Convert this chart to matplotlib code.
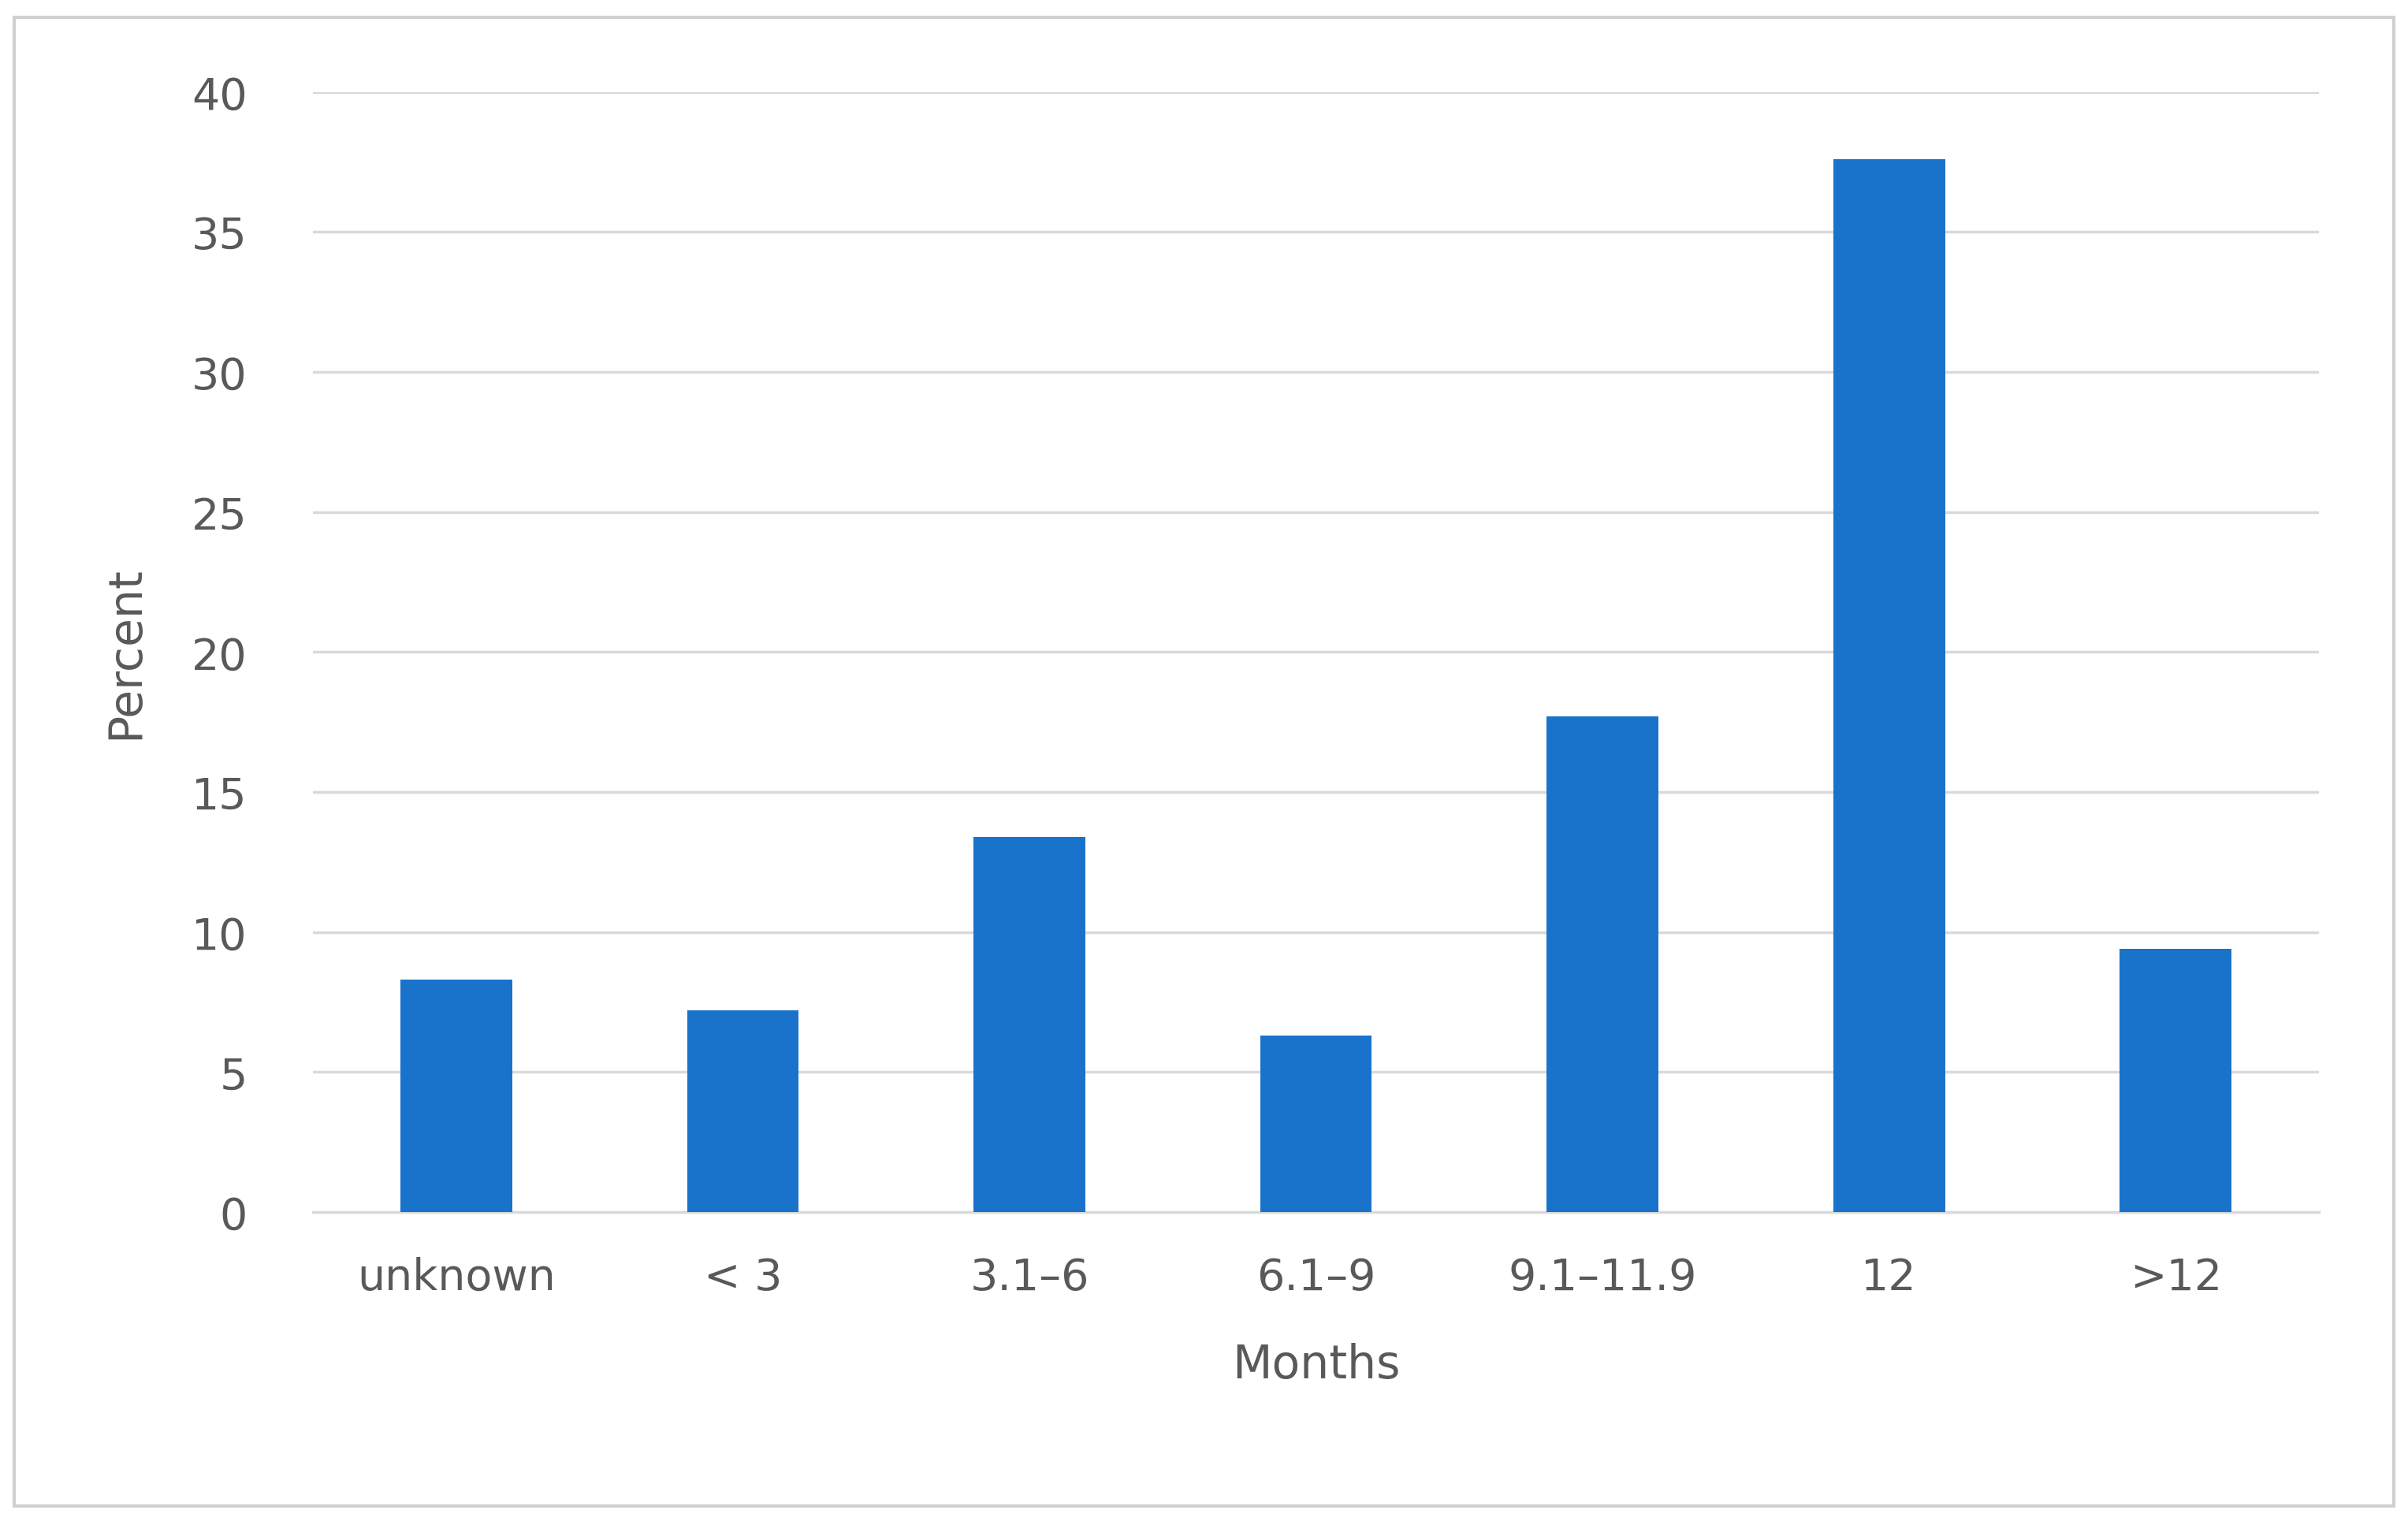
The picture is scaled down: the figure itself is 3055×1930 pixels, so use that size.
import matplotlib.pyplot as plt
from matplotlib.patches import Rectangle

categories = ["unknown", "< 3", "3.1\u20136", "6.1\u20139", "9.1\u201311.9", "12", ">12"]
percent = [8.3, 7.2, 13.4, 6.3, 17.7, 37.6, 9.4]
yticks = [0, 5, 10, 15, 20, 25, 30, 35, 40]

fig = plt.figure(figsize=(30.55, 19.31), dpi=100)
ax = fig.add_axes([0.130, 0.203, 0.833, 0.736])
fig.patches.append(Rectangle((0.006, 0.01), 0.988, 0.978, transform=fig.transFigure,
                             fill=False, edgecolor="#d0d0d0", linewidth=3))

ax.bar(range(len(categories)), percent, width=0.39, color="#1a73cb", zorder=3)
ax.set_ylim(0, 40)
ax.set_xlim(-0.5, len(categories) - 0.5)
ax.set_yticks(yticks)
ax.set_xticks(range(len(categories)))
ax.set_xticklabels(categories)
ax.grid(axis="y", color="#d9d9d9", linewidth=2.5, zorder=0)
for s in ["top", "right", "left"]:
    ax.spines[s].set_visible(False)
ax.spines["bottom"].set_color("#d9d9d9")
ax.spines["bottom"].set_linewidth(2.5)
ax.tick_params(length=0, labelsize=40, labelcolor="#595959", pad=40)
ax.tick_params(axis="y", pad=60)
ax.set_xlabel("Months", fontsize=42, color="#595959", labelpad=40)
ax.set_ylabel("Percent", fontsize=42, color="#595959", labelpad=40)

fig.savefig("out.png", dpi=100)
